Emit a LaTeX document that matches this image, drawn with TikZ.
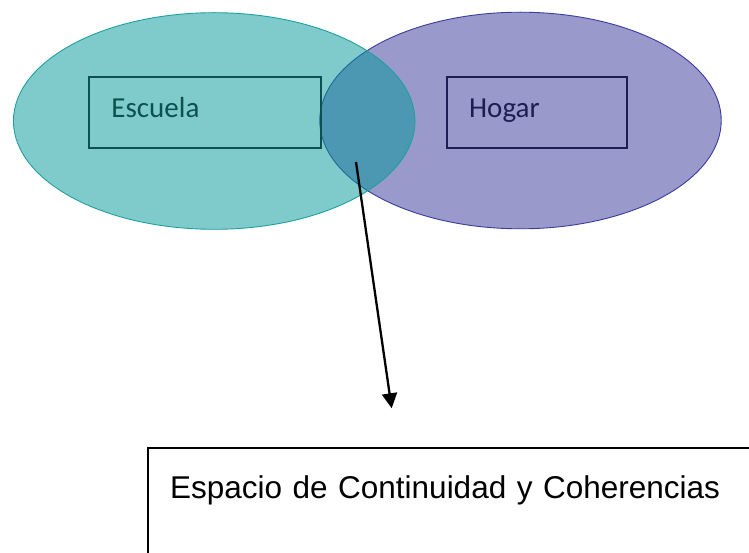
\documentclass[tikz,border=0pt]{standalone}
\usepackage{fontspec}
\setmainfont{Liberation Sans}
\newfontfamily\calibrifont{Carlito}
\usetikzlibrary{positioning, shapes.geometric, arrows.meta}

\definecolor{escuelaFill}{RGB}{0,151,151}
\definecolor{escuelaLine}{RGB}{32,160,160}
\definecolor{escuelaText}{RGB}{12,80,82}
\definecolor{hogarFill}{RGB}{51,51,153}
\definecolor{hogarLine}{RGB}{60,60,158}
\definecolor{hogarText}{RGB}{30,30,84}

\begin{document}
\begin{tikzpicture}[
x=1pt, y=-1pt,
setnode/.style={ellipse,
  minimum width=401.5pt,
  minimum height=216.6pt,
  inner sep=0pt,
  fill opacity=0.5,
  line width=0.9pt
},
labelbox/.style={rectangle,
  line width=1.9pt,
  inner xsep=22.5pt,
  inner ysep=0pt,
  text height=40.3pt,
  text depth=30.7pt,
  align=left,
  anchor=base west,
  font=\calibrifont\fontsize{29}{34}\selectfont
},
spacebox/.style={rectangle,
  draw=black,
  line width=1.7pt,
  inner xsep=22pt,
  inner ysep=0pt,
  text height=50.6pt,
  text depth=90pt,
  text width=600pt,
  align=left,
  anchor=base west,
  font=\fontsize{31.5}{38}\selectfont
},
>={Triangle[length=15pt,width=15pt]}
]
\useasboundingbox (0,0) rectangle (749,553);

% the two sets, teal one on top
\node[setnode, fill=hogarFill, draw=hogarLine] (hogarSet) at (520.5,120.5) {};
\node[setnode, fill=escuelaFill, draw=escuelaLine] (escuelaSet) at (214.2,121) {};

\node[labelbox, draw=escuelaText, text=escuelaText, text width=187pt] (escuela) at (88,117.3)
    {Escuela};
\node[labelbox, draw=hogarText, text=hogarText, text width=135.3pt] (hogar) at (445.7,117.3)
    {Hogar};

\node[spacebox] (espacio) at (147.3,498.3)
    {Espacio de Continuidad y Coherencias};

\coordinate (overlap) at (356,162);
\coordinate (arrowEnd) at (391.7,408.3);
\draw[->,line width=2.3pt,black] (overlap) -- (arrowEnd);
\end{tikzpicture}
\end{document}
